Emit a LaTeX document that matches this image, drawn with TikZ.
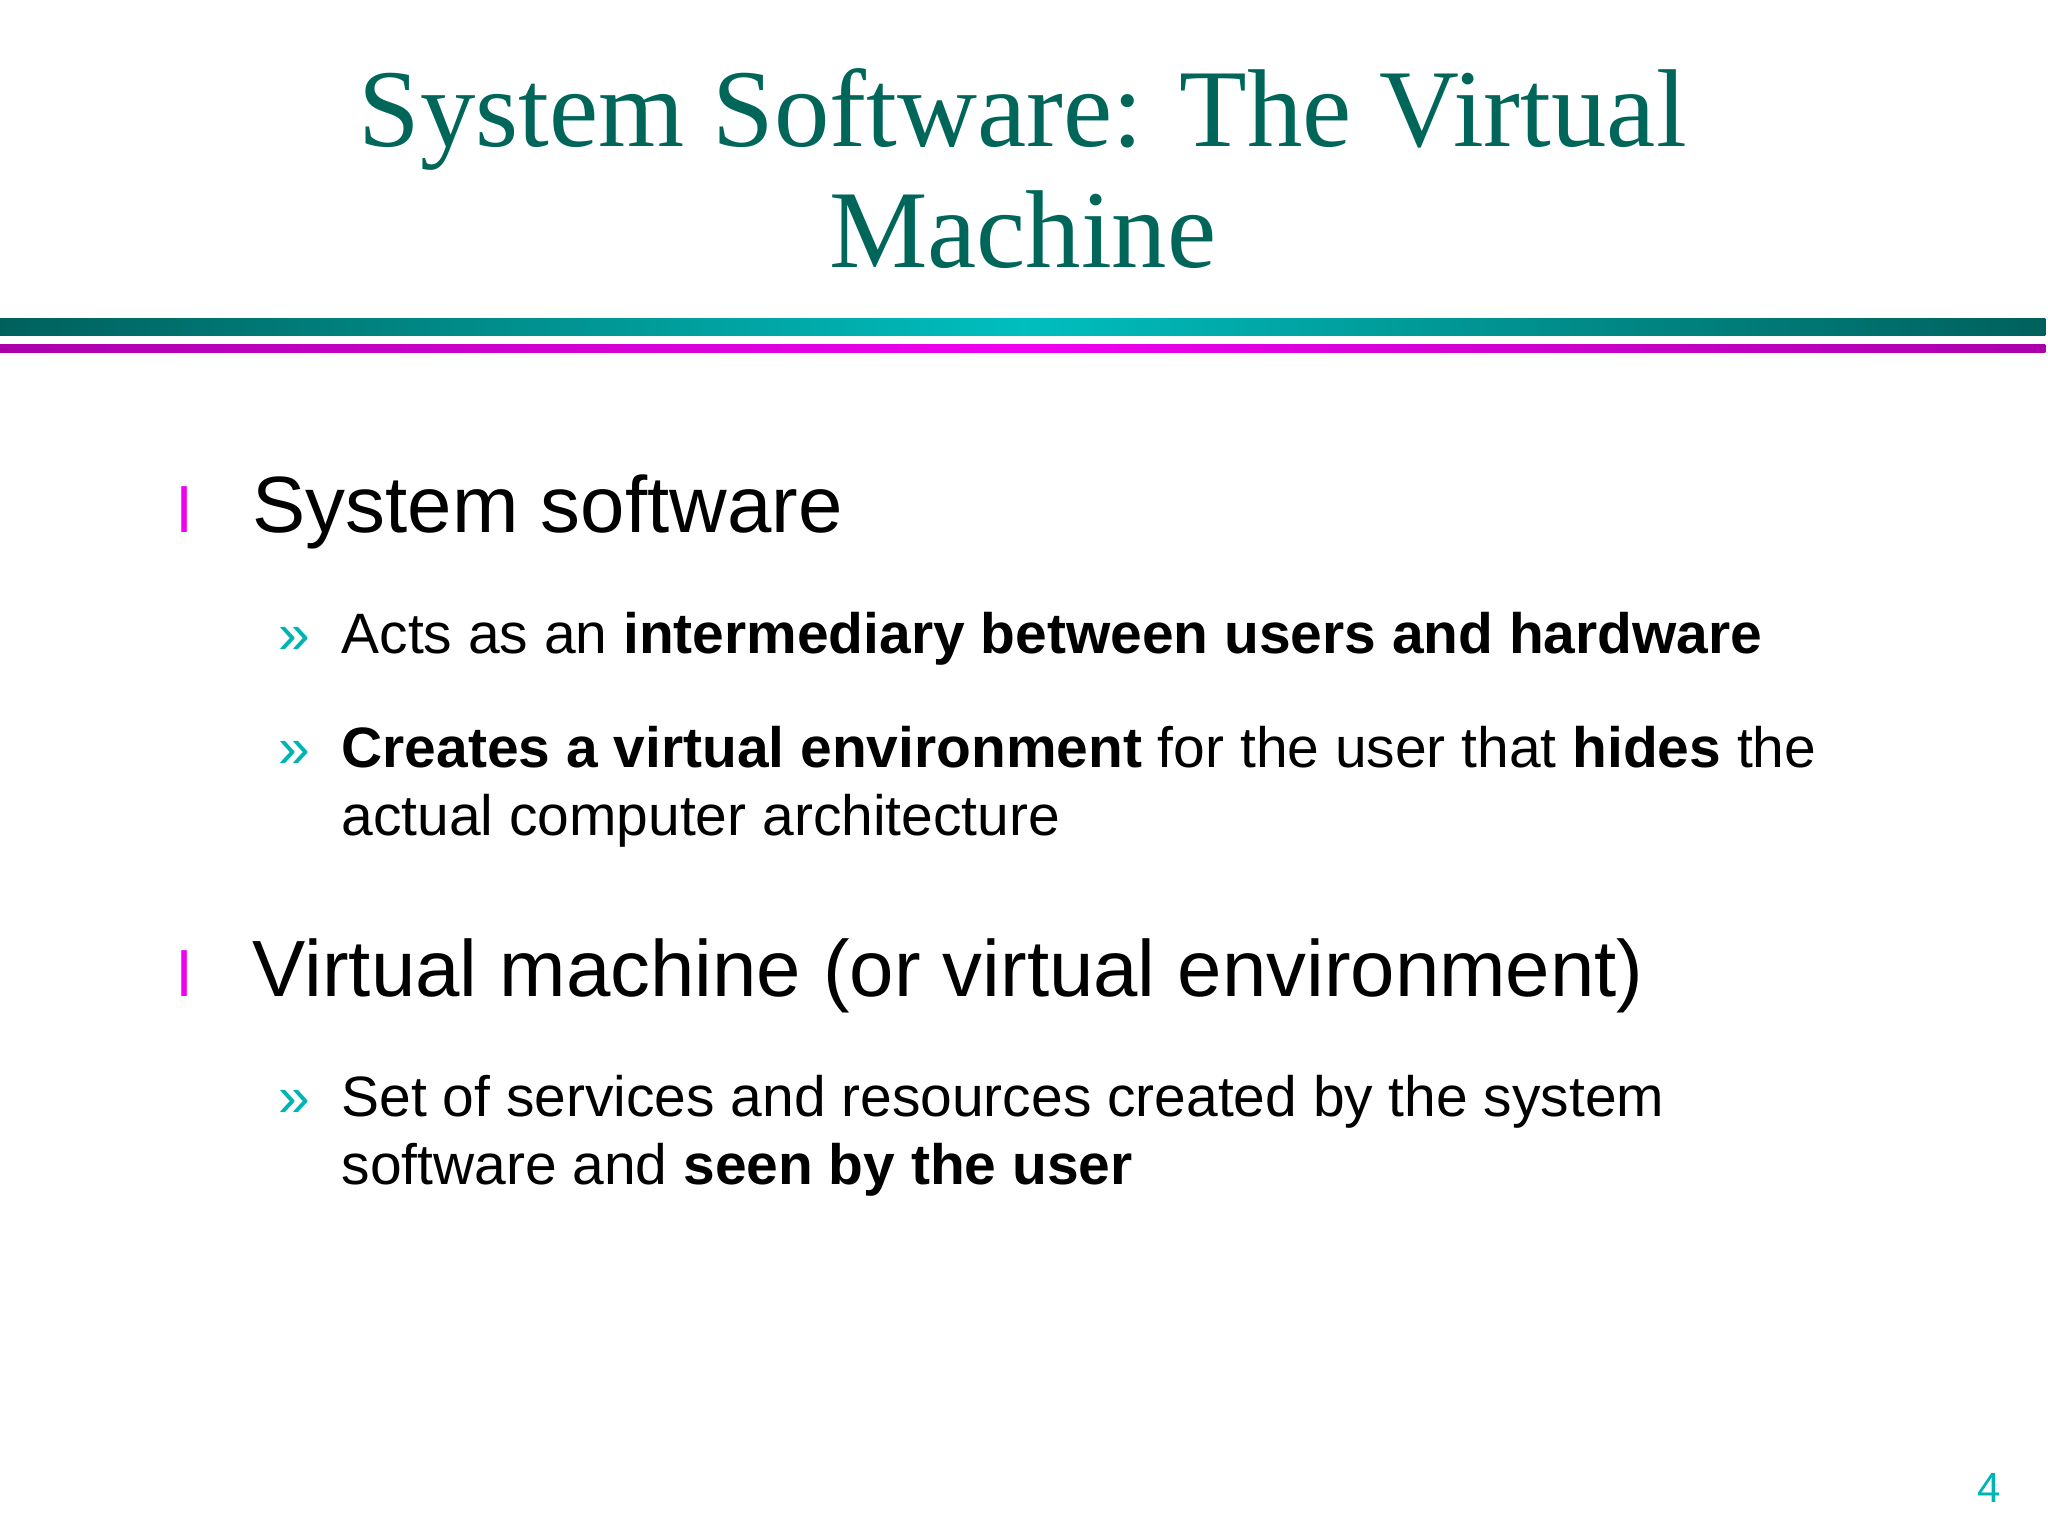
\documentclass[tikz,border=0pt]{standalone}
\usepackage{fontspec}
\setmainfont{Liberation Serif}
\setsansfont{Liberation Sans}
\usetikzlibrary{positioning}
\definecolor{titleteal}{RGB}{0,102,90}
\definecolor{barteal}{RGB}{0,96,92}
\definecolor{barcyan}{RGB}{0,190,190}
\definecolor{barmag}{RGB}{170,0,170}
\definecolor{brightmag}{RGB}{240,0,240}
\definecolor{dotcyan}{RGB}{0,180,180}
\tikzset{
  title/.style={font=\fontsize{31.5}{35}\selectfont, text=titleteal, anchor=base},
  lvlone/.style={font=\sffamily\fontsize{22.7}{27}\selectfont, anchor=base west, inner sep=0},
  lvltwo/.style={font=\sffamily\fontsize{16.2}{20}\selectfont, anchor=base west, inner sep=0},
  markone/.style={font=\sffamily\fontsize{18}{20}\selectfont, text=brightmag, anchor=base west, inner sep=0},
  marktwo/.style={font=\sffamily\fontsize{16.2}{20}\selectfont, text=dotcyan, anchor=base west, inner sep=0}
}
\begin{document}
\begin{tikzpicture}[x=0.013061cm, y=-0.013061cm]
\useasboundingbox (0,0) rectangle (1568,1176);
%%% title and bars
\node[title] (t1) at (783,112) {System Software: The Virtual};
\node[title] (t2) at (783,205) {Machine};
\shade[left color=barteal, right color=barteal, middle color=barcyan] (0,244) rectangle (1566,257);
\shade[left color=barmag, right color=barmag, middle color=brightmag] (0,264) rectangle (1566,270);
%%% first level
\foreach \y/\n in {408/a, 763/b}{%
  \node[markone] (m\n) at (135,\y) {l};}
\node[lvlone] (sys) at (193,408) {System software};
\node[lvlone] (vm) at (193,763) {Virtual machine (or virtual environment)};
%%% second level
\foreach \y/\n in {500/a, 588/b, 855/c}{%
  \node[marktwo] (s\n) at (213,\y) {»};}
\node[lvltwo] (acts) at (261,500) {Acts as an \textbf{intermediary between users and hardware}};
\node[lvltwo] (creates) at (261,588) {\textbf{Creates a virtual environment} for the user that \textbf{hides} the};
\node[lvltwo] (actual) at (261,640) {actual computer architecture};
\node[lvltwo] (set) at (261,855) {Set of services and resources created by the system};
\node[lvltwo] (seen) at (261,907) {software and \textbf{seen by the user}};
%%% page number
\node[font=\sffamily\fontsize{12}{14}\selectfont, text=dotcyan, anchor=base] (pg) at (1523,1150) {4};
\end{tikzpicture}
\end{document}
